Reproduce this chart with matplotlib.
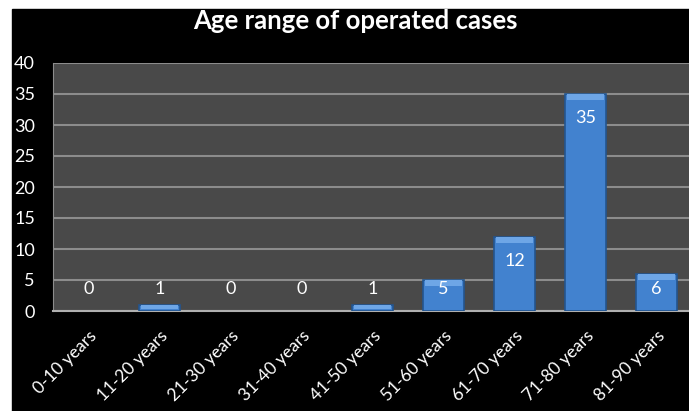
"""
Bar chart: age range of operated cases
"""
import matplotlib
matplotlib.use("Agg")
import matplotlib.pyplot as plt
from matplotlib.patches import Rectangle

# Data
age_groups = ['0-10 years', '11-20 years', '21-30 years', '31-40 years', '41-50 years',
              '51-60 years', '61-70 years', '71-80 years', '81-90 years']
cases = [0, 1, 0, 0, 1, 5, 12, 35, 6]
y_ticks = [0, 5, 10, 15, 20, 25, 30, 35, 40]

# Style
FONT = ['Lato', 'DejaVu Sans']
BAR_COLOR = '#4282cf'
BAR_EDGE = '#23558f'
BEVEL_COLOR = '#6ea6e6'
PLOT_BG = '#494949'
GRID_COLOR = '#8c8c8c'

plt.rcParams['font.family'] = FONT

fig = plt.figure(figsize=(6.89, 4.11), dpi=100, facecolor='white')
# black chart area with a thin white border top/left
fig.patches.append(Rectangle((12 / 689, -0.05), 1.1, 0.05 + (411 - 9) / 411,
                             transform=fig.transFigure, color='black', zorder=-10))

ax = fig.add_axes([53 / 689, 100 / 411, 639 / 689, 248 / 411])
ax.set_facecolor(PLOT_BG)

x = list(range(len(age_groups)))
width = 0.57
edge_widths = [1.2 if v > 0 else 0 for v in cases]
ax.bar(x, cases, width=width, color=BAR_COLOR, edgecolor=BAR_EDGE,
       linewidth=edge_widths, zorder=3)

# lighter bevel on top of each bar
for xi, v in zip(x, cases):
    if v > 0:
        h = min(0.9, v * 0.6)
        ax.bar(xi, h, width=width * 0.92, bottom=v - h - 0.08, color=BEVEL_COLOR,
               linewidth=0, zorder=4)

# value labels
for xi, v in zip(x, cases):
    ax.text(xi, max(v - 3.9, 3.55), str(v), ha='center', va='center',
            color='white', fontsize=13, zorder=5)

ax.set_xlim(-0.5, len(age_groups) - 0.5)
ax.set_ylim(0, 40)
ax.set_yticks(y_ticks)
ax.set_yticklabels([str(t) for t in y_ticks], color='white', fontsize=13)
ax.set_xticks(x)
ax.set_xticklabels(age_groups, rotation=45, ha='right', va='top',
                   rotation_mode='anchor', color='white', fontsize=12.5)
ax.tick_params(axis='both', length=0)
ax.tick_params(axis='y', pad=13)
ax.tick_params(axis='x', pad=12)

ax.yaxis.grid(True, color=GRID_COLOR, linewidth=1.5, zorder=1)
ax.set_axisbelow(True)
for side in ['top', 'right']:
    ax.spines[side].set_visible(False)
ax.spines['left'].set_color(GRID_COLOR)
ax.spines['bottom'].set_color('#b0b0b0')
ax.spines['bottom'].set_linewidth(1.5)

fig.text(355 / 689, 1 - 21 / 411, 'Age range of operated cases', ha='center', va='center',
         color='white', fontsize=18.5, fontweight='bold')

plt.savefig('out.png', dpi=100, facecolor=fig.get_facecolor())
